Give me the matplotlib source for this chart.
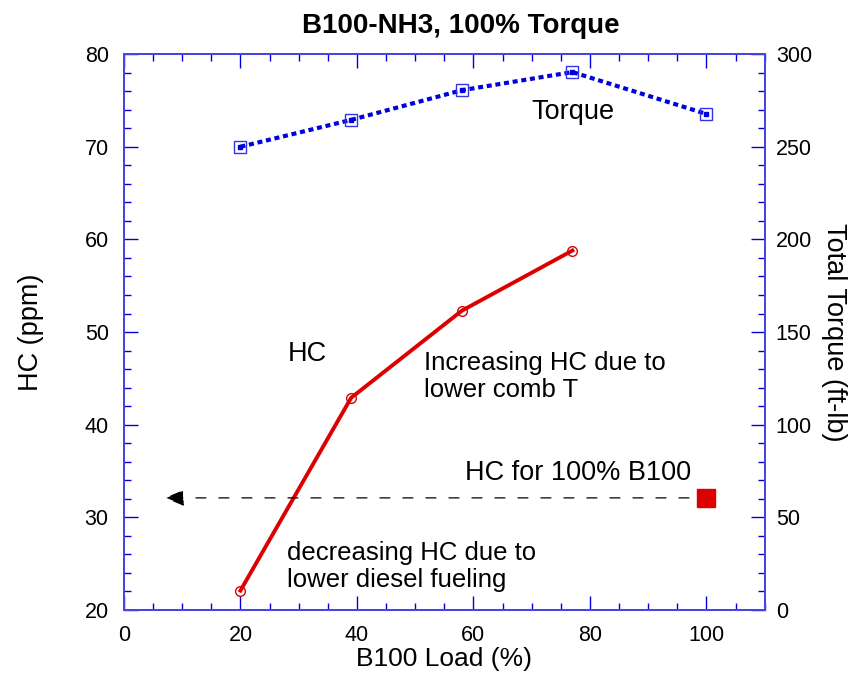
import matplotlib
matplotlib.use("Agg")
import matplotlib.pyplot as plt
from matplotlib.ticker import MultipleLocator

plt.rcParams['font.family'] = ['Liberation Sans', 'DejaVu Sans']

load = [20, 39, 58, 77]
hc = [22.1, 42.9, 52.3, 58.8]
torque_load = [20, 39, 58, 77, 100]
torque = [250, 264.5, 280.5, 290.3, 267.7]
b100_load = [100]
b100_hc = [32.1]

fig = plt.figure(figsize=(8.64, 6.85), dpi=100)
ax = fig.add_axes([0.1435, 0.1095, 0.7415, 0.8115])
ax2 = ax.twinx()

blue = '#0000dd'
for a in (ax, ax2):
    for s in a.spines.values():
        s.set_color('#4444ee')
        s.set_linewidth(1.3)

ax.plot(load, hc, color='#dd0000', lw=2.8, marker='o', ms=7, mfc='none', mec='#dd0000', mew=1, zorder=3)
ax.plot(b100_load, b100_hc, marker='s', ms=13.5, color='#dd0000', ls='none', zorder=3)
ax.annotate('', xy=(7, b100_hc[0]), xytext=(97, b100_hc[0]),
            arrowprops=dict(arrowstyle='-|>,head_length=0.6,head_width=0.25',
                            ls=(0, (8, 10.4)), color='black', lw=0.9,
                            mutation_scale=20, shrinkA=0, shrinkB=0))

ax2.plot(torque_load, torque, color=blue, lw=3, ls=(0, (1.2, 0.9)), zorder=3)
ax2.plot(torque_load, torque, ls='none', marker='s', ms=8, mfc='none', mec='#3333ee', mew=1, zorder=4)
ax2.plot(torque_load, torque, ls='none', marker='s', ms=3.5, color=blue, zorder=4)

ax.set_xlim(0, 110)
ax.set_ylim(20, 80)
ax2.set_ylim(0, 300)

ax.xaxis.set_major_locator(MultipleLocator(20))
ax.xaxis.set_minor_locator(MultipleLocator(5))
ax.yaxis.set_major_locator(MultipleLocator(10))
ax.yaxis.set_minor_locator(MultipleLocator(2))
ax2.yaxis.set_major_locator(MultipleLocator(50))
ax2.yaxis.set_minor_locator(MultipleLocator(10))

ax.tick_params(axis='both', which='both', direction='in', color=blue, labelsize=15.5, labelcolor='black')
ax.tick_params(axis='x', which='both', top=True)
ax.tick_params(which='major', length=10, width=1)
ax.tick_params(which='minor', length=5, width=1)
ax2.tick_params(axis='y', which='both', direction='in', color=blue, labelsize=15.5, labelcolor='black')
ax2.tick_params(which='major', length=10, width=1)
ax2.tick_params(which='minor', length=5, width=1)
ax.tick_params(axis='x', pad=11)
ax.tick_params(axis='y', pad=11)
ax2.tick_params(axis='y', pad=8)

ax.set_xlabel('B100 Load (%)', fontsize=19)
ax.xaxis.set_label_coords(0.5, -0.066)
ax.set_ylabel('HC (ppm)', fontsize=19.5)
ax.yaxis.set_label_coords(-0.125, 0.5)
ax2.set_ylabel('Total Torque (ft-lb)', fontsize=19.5, rotation=270, va='center')
ax2.yaxis.set_label_coords(1.109, 0.5)
ax.set_title('B100-NH3, 100% Torque', fontsize=20, fontweight='bold', pad=15, x=0.526)

ax.text(70, 73.7, 'Torque', fontsize=19.5, va='center')
ax.text(28.1, 47.6, 'HC', fontsize=19.5, va='center')
ax.text(51.5, 45.2, 'Increasing HC due to\nlower comb T', fontsize=18.5, va='center', linespacing=1.2)
ax.text(58.5, 34.8, 'HC for 100% B100', fontsize=19.5, va='center')
ax.text(28.0, 24.7, 'decreasing HC due to\nlower diesel fueling', fontsize=18.5, va='center', linespacing=1.2)

fig.savefig('out.png', dpi=100)
